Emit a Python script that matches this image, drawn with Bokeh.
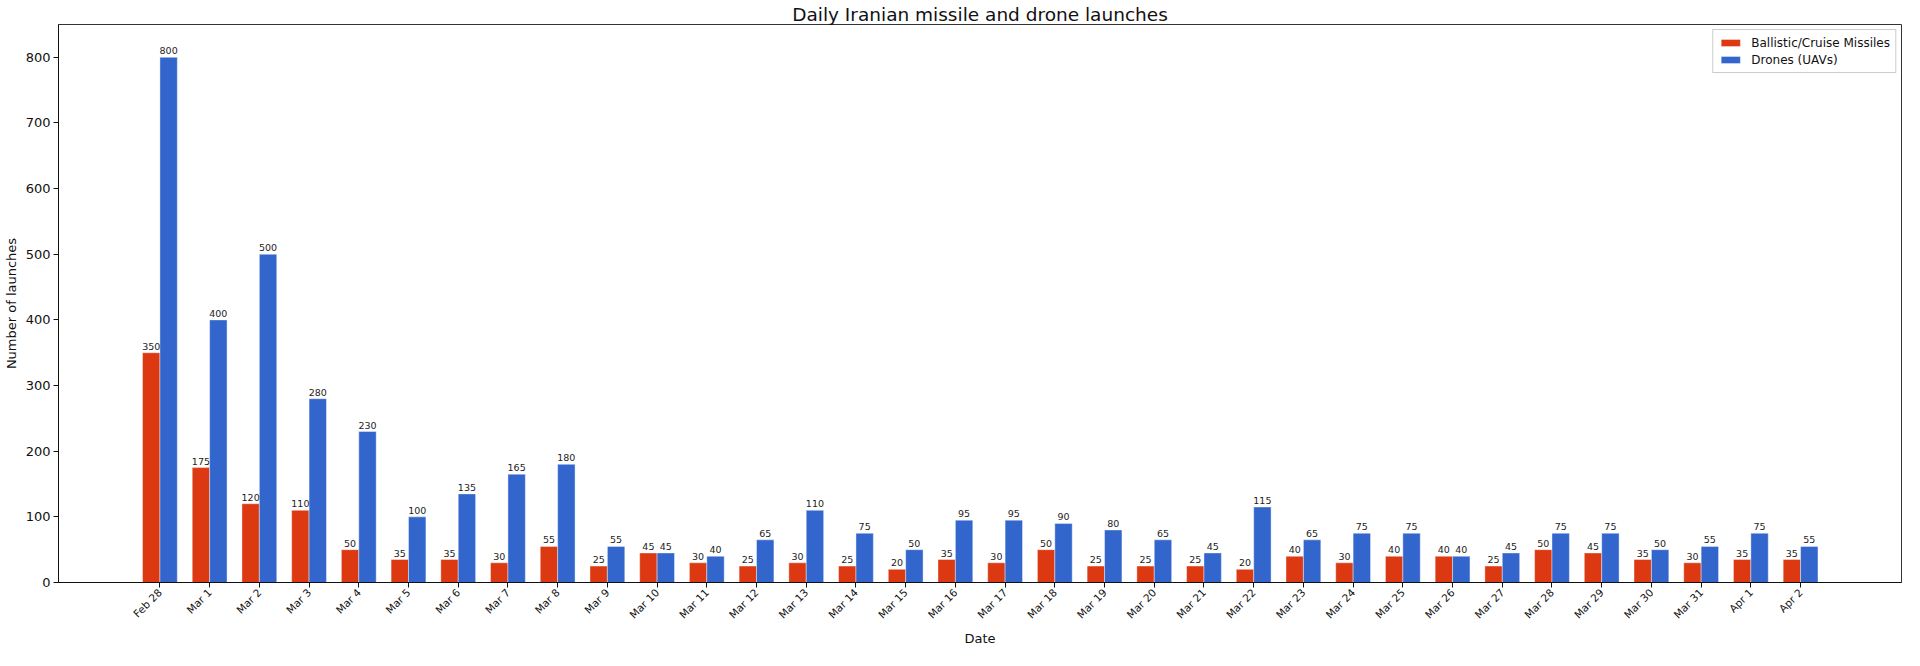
import math
from bokeh.plotting import figure
from bokeh.models import ColumnDataSource, Range1d, FixedTicker, Legend, LegendItem, LabelSet
from bokeh.core.properties import value
from bokeh.embed import file_html
from bokeh.resources import INLINE

dates = ["Feb 28", "Mar 1", "Mar 2", "Mar 3", "Mar 4", "Mar 5", "Mar 6", "Mar 7", "Mar 8",
         "Mar 9", "Mar 10", "Mar 11", "Mar 12", "Mar 13", "Mar 14", "Mar 15", "Mar 16",
         "Mar 17", "Mar 18", "Mar 19", "Mar 20", "Mar 21", "Mar 22", "Mar 23", "Mar 24",
         "Mar 25", "Mar 26", "Mar 27", "Mar 28", "Mar 29", "Mar 30", "Mar 31", "Apr 1", "Apr 2"]
missiles = [350, 175, 120, 110, 50, 35, 35, 30, 55, 25, 45, 30, 25, 30, 25, 20, 35,
            30, 50, 25, 25, 25, 20, 40, 30, 40, 40, 25, 50, 45, 35, 30, 35, 35]
drones = [800, 400, 500, 280, 230, 100, 135, 165, 180, 55, 45, 40, 65, 110, 75, 50, 95,
          95, 90, 80, 65, 45, 115, 65, 75, 75, 40, 45, 75, 75, 50, 55, 75, 55]
y_ticks = [0, 100, 200, 300, 400, 500, 600, 700, 800]

RED = "#dc3912"
BLUE = "#3366cc"
FONT = "DejaVu Sans"
W = 0.35

idx = list(range(len(dates)))
src_m = ColumnDataSource(dict(x=[i - W / 2 for i in idx], y=missiles, lab=[str(v) for v in missiles]))
src_d = ColumnDataSource(dict(x=[i + W / 2 for i in idx], y=drones, lab=[str(v) for v in drones]))

p = figure(width=1904, height=648, output_backend="svg", toolbar_location=None,
           x_range=Range1d(-2.04, 35.03), y_range=Range1d(0, 850),
           min_border_left=55, min_border_right=3, min_border_top=24, min_border_bottom=60)

p.title.text = "Daily Iranian missile and drone launches"
p.title.align = "center"
p.title.text_font = FONT
p.title.text_font_size = "18.5px"
p.title.text_font_style = "normal"
p.title.text_color = "#111111"
p.title.standoff = 0

rm = p.vbar(x="x", top="y", width=W, source=src_m, fill_color=RED, line_color="white",
            line_alpha=0.5, line_width=0.8)
rd = p.vbar(x="x", top="y", width=W, source=src_d, fill_color=BLUE, line_color="white",
            line_alpha=0.5, line_width=0.8)

for s in (src_m, src_d):
    p.add_layout(LabelSet(x="x", y="y", text="lab", source=s, text_align="center",
                          text_baseline="bottom", y_offset=3, text_font=value(FONT),
                          text_font_size=value("9.5px"), text_color="#222222"))

p.xgrid.visible = False
p.ygrid.visible = False
p.outline_line_color = "#333333"
p.outline_line_width = 1

p.xaxis.ticker = FixedTicker(ticks=idx)
p.xaxis.major_label_overrides = {i: d for i, d in enumerate(dates)}
p.xaxis.major_label_orientation = math.pi / 4
p.xaxis.major_label_text_font_size = "10.5px"
p.xaxis.major_label_standoff = 3
p.xaxis.axis_label = "Date"
p.yaxis.axis_label = "Number of launches"
p.yaxis.ticker = FixedTicker(ticks=y_ticks)

for ax in (p.xaxis[0], p.yaxis[0]):
    ax.major_label_text_font = FONT
    ax.axis_label_text_font = FONT
    ax.axis_label_text_font_style = "normal"
    ax.axis_label_text_font_size = "13px"
    ax.axis_label_text_color = "#111111"
    ax.minor_tick_line_color = None
    ax.major_tick_in = 0
    ax.major_tick_out = 5
    ax.axis_line_color = "#111111"
    ax.major_tick_line_color = "#111111"
    ax.major_label_text_color = "#111111"
p.yaxis.major_label_text_font_size = "13px"
p.yaxis.major_label_standoff = 3
p.xaxis.axis_label_standoff = 3
p.yaxis.axis_label_standoff = 4

legend = Legend(items=[LegendItem(label="Ballistic/Cruise Missiles", renderers=[rm]),
                       LegendItem(label="Drones (UAVs)", renderers=[rd])],
                location="top_right", label_text_font=FONT, label_text_font_size="12px",
                label_text_color="#111111",
                border_line_color="#cccccc", border_line_alpha=1, glyph_width=24, glyph_height=9,
                label_height=15, spacing=2, padding=5, margin=5, label_standoff=9)
p.add_layout(legend)

open("out.html", "w").write(file_html(p, INLINE))
